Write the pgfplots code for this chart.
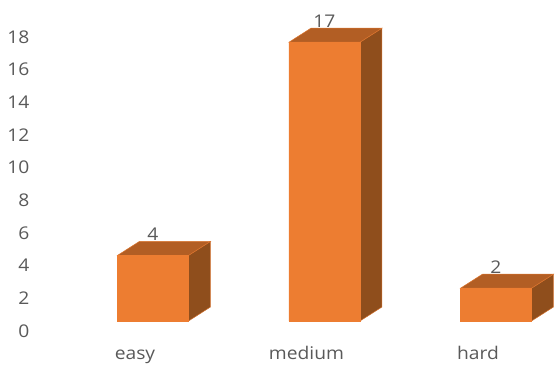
\documentclass[border=0pt]{standalone}
\usepackage{fontspec}
\setmainfont{Open Sans}[FakeStretch=1.1]
\usepackage{pgfplots}
\pgfplotsset{compat=1.18}
\definecolor{barfront}{HTML}{ED7D31}
\definecolor{bartop}{HTML}{B25E24}
\definecolor{barside}{HTML}{8F4E1C}
\definecolor{labelgray}{HTML}{595959}
\begin{document}
\begin{tikzpicture}[x=1bp,y=1bp]
\path[use as bounding box] (0,0) rectangle (556,364);
% Value scale on the left
\begin{axis}[
  at={(32bp,0bp)}, anchor=south west, scale only axis,
  width=524bp, height=364bp,
  xmin=0, xmax=1, ymin=-2.082, ymax=20.208,
  axis x line=none,
  axis y line=left,
  y axis line style={draw=none},
  ytick={0,2,4,6,8,10,12,14,16,18},
  major tick length=0pt,
  yticklabel style={text=labelgray, font=\fontsize{17.5bp}{19bp}\selectfont, inner sep=0pt, anchor=east, xshift=-2.5bp, yshift=-0.8bp},
  /pgf/number format/assume math mode=true,
]
\addplot[draw=none] coordinates {(0,0) (1,18)};
\end{axis}
% Bars: side and top faces first, then the front faces
\begin{axis}[
  at={(32bp,24bp)}, anchor=south west, scale only axis,
  width=524bp, height=340bp,
  xmin=-0.7055, xmax=2.35, ymin=-1.1585, ymax=19.573,
  axis y line=none,
  axis x line=bottom,
  x axis line style={draw=none},
  xtick={-0.105,0.895,1.895},
  xticklabels={easy,medium,hard},
  major tick length=0pt,
  xticklabel style={text=labelgray, font=\fontsize{17.5bp}{19bp}\selectfont, anchor=base, inner sep=0pt, yshift=-19bp},
  clip=false,
]
\pgfplotsset{
  side/.style={fill=barside, draw=barfront!70!barside, line width=0.5pt},
  topf/.style={fill=bartop, draw=barfront!70!bartop, line width=0.5pt},
}
% easy = 4
\addplot[side] coordinates {(0.207,0) (0.335,0.854) (0.335,4.854) (0.207,4)} -- cycle;
\addplot[topf] coordinates {(-0.207,4) (0.207,4) (0.335,4.854) (-0.079,4.854)} -- cycle;
% medium = 17
\addplot[side] coordinates {(1.207,0) (1.335,0.854) (1.335,17.854) (1.207,17)} -- cycle;
\addplot[topf] coordinates {(0.793,17) (1.207,17) (1.335,17.854) (0.921,17.854)} -- cycle;
% hard = 2
\addplot[side] coordinates {(2.207,0) (2.335,0.854) (2.335,2.854) (2.207,2)} -- cycle;
\addplot[topf] coordinates {(1.793,2) (2.207,2) (2.335,2.854) (1.921,2.854)} -- cycle;
% Front faces with value labels
\addplot[ybar, bar width=71bp, fill=barfront, draw=barfront, line width=0.5pt,
  nodes near coords,
  nodes near coords style={text=labelgray, anchor=center, inner sep=0pt, yshift=21bp,
    font=\fontsize{17.5bp}{19bp}\selectfont, /pgf/number format/assume math mode=true},
] coordinates {(0,4) (1,17) (2,2)};
\end{axis}
\end{tikzpicture}
\end{document}
